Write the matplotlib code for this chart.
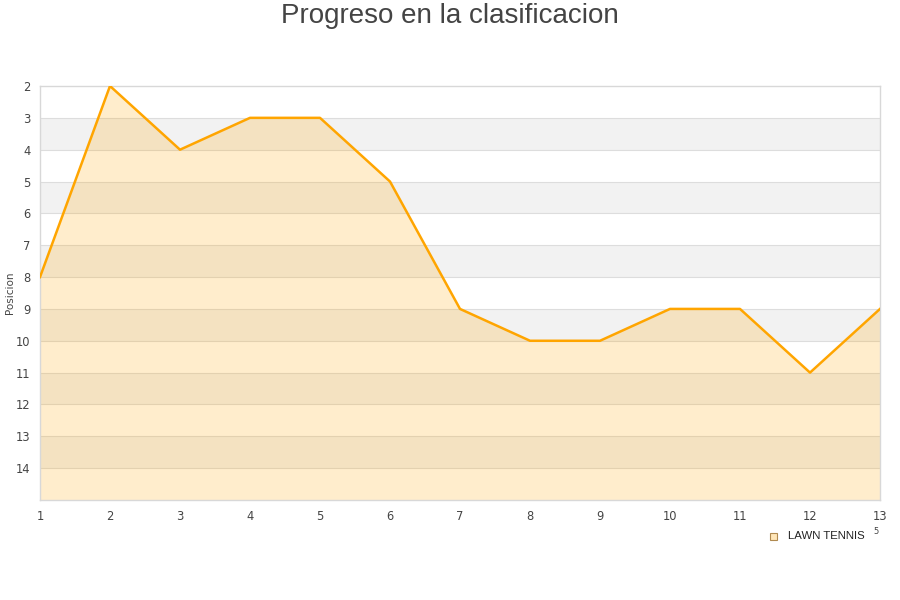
import matplotlib
matplotlib.use("Agg")
import matplotlib.pyplot as plt

jornadas = [1, 2, 3, 4, 5, 6, 7, 8, 9, 10, 11, 12, 13]
posiciones = [8, 2, 4, 3, 3, 5, 9, 10, 10, 9, 9, 11, 9]
y_ticks = [2, 3, 4, 5, 6, 7, 8, 9, 10, 11, 12, 13, 14]
serie = "LAWN TENNIS"
titulo = "Progreso en la clasificacion"
y_label = "Posicion"

fig = plt.figure(figsize=(9, 6), dpi=100)
ax = fig.add_axes([40/900, 100/600, 840/900, 414/600])

ymin, ymax = 2, 15
ax.set_xlim(1, 13)
ax.set_ylim(ymax, ymin)

# alternating bands
for b in range(ymin, ymax):
    if b % 2 == 1:
        ax.axhspan(b, b + 1, color="#f2f2f2", zorder=0, lw=0)
for t in range(ymin + 1, ymax):
    ax.axhline(t, color="#dddddd", lw=0.8, zorder=1)

ax.fill_between(jornadas, posiciones, ymax, color="#ffa500", alpha=0.2, lw=0, zorder=2)
ax.plot(jornadas, posiciones, color="#ffa500", lw=1.8, zorder=3)

ax.set_xticks(jornadas)
ax.set_yticks(y_ticks)
ax.tick_params(axis="both", length=0, labelsize=8.3, labelcolor="#444444")
ax.tick_params(axis="x", pad=7)
ax.tick_params(axis="y", pad=7)
for s in ax.spines.values():
    s.set_color("#d8d8d8")
    s.set_linewidth(1)

fig.text(10/900, 1 - 293/600, y_label, fontsize=7.5, color="#444444",
         rotation=90, ha="center", va="center")

fig.text(0.5, 1 - 16/600, titulo, ha="center", va="center", fontsize=20,
         color="#444444", family="Liberation Sans")

# legend
fig.patches.append(plt.Rectangle((770/900, 1 - 540/600), 7/900, 7/600,
                                 transform=fig.transFigure, facecolor="#ffe6b8",
                                 edgecolor="#b08a50", lw=0.8))
fig.text(788/900, 1 - 536/600, serie, fontsize=8.2, color="#222222",
         family="Liberation Sans", va="center", ha="left")
fig.text(873/900, 1 - 532/600, "5", fontsize=6, color="#444444", va="center")

fig.savefig("out.png", dpi=100, facecolor="white")
